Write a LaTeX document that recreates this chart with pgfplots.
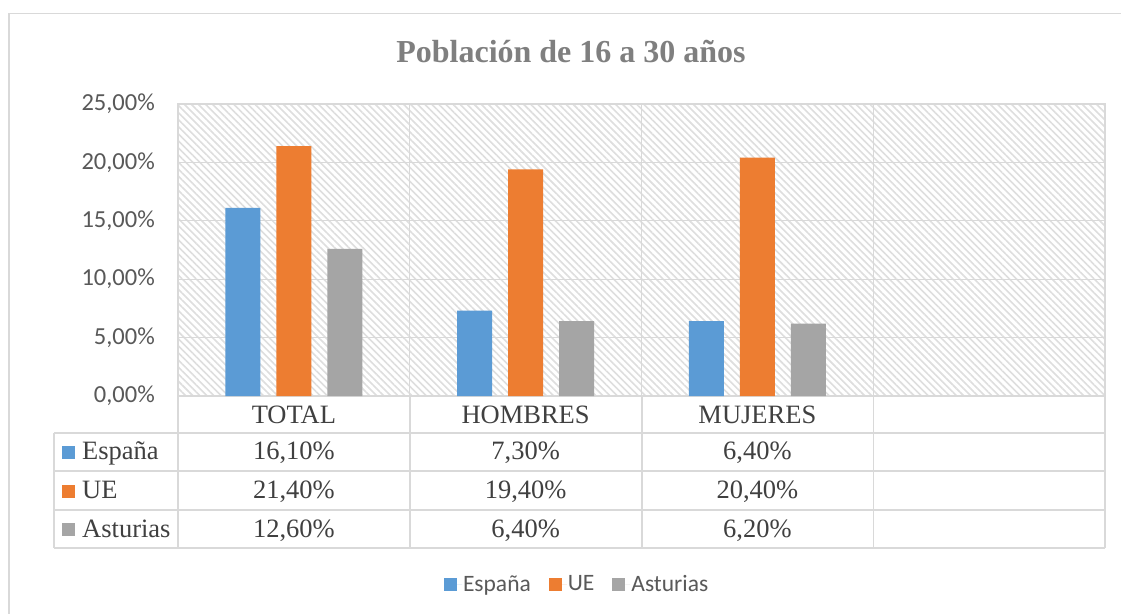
\documentclass[border=0pt]{standalone}
\usepackage{pgfplots}
\pgfplotsset{compat=1.18}
\usepackage{pgfplotstable}
\usepackage{fontspec}
\setmainfont{Liberation Serif}
\newfontfamily\calibri{Carlito}
\usetikzlibrary{patterns.meta}
\definecolor{cblue}{HTML}{5B9BD5}
\definecolor{corange}{HTML}{ED7D31}
\definecolor{cgray}{HTML}{A5A5A5}
\definecolor{lgrid}{HTML}{D9D9D9}
\definecolor{txt}{HTML}{404040}
\definecolor{tickc}{HTML}{595959}
\definecolor{ttl}{HTML}{7F7F7F}
\definecolor{hatch}{HTML}{DEDEDE}

\pgfplotstableread{
x espana ue asturias
0 16.1 21.4 12.6
1 7.3 19.4 6.4
2 6.4 20.4 6.2
}\datatable

\begin{document}
\begin{tikzpicture}[x=1pt,y=1pt]
\useasboundingbox (0,0) rectangle (1121,613);
\fill[white] (0,0) rectangle (1121,613);
\draw[lgrid, line width=1.3pt] (9,-5) -- (9,599.5) -- (1130,599.5);
\node[anchor=base, text=ttl, inner sep=0pt, font=\bfseries\fontsize{32}{38}\selectfont] at (571,550) {Población de 16 a 30 años};
\begin{axis}[
 at={(178pt,217pt)}, anchor=south west,
 scale only axis, width=927pt, height=292pt,
 xmin=-0.5, xmax=3.5, ymin=0, ymax=25,
 ybar=16pt, bar width=35pt,
 axis background/.style={fill=white, postaction={pattern={Lines[angle=-45,distance=5pt,line width=1.6pt]}, pattern color=hatch}},
 axis line style={lgrid, line width=1.3pt},
 ymajorgrids, grid style={lgrid, line width=1.3pt},
 ytick={0,5,10,15,20,25},
 major tick length=0pt,
 /pgf/number format/assume math mode=true,
 yticklabel={\pgfmathprintnumber[fixed,fixed zerofill,precision=2,use comma]{\tick}\%},
 yticklabel style={font=\calibri\fontsize{24.5}{28}\selectfont, text=tickc, inner sep=0pt, xshift=-23pt},
 xtick={0,1,2}, xticklabels={TOTAL,HOMBRES,MUJERES},
 xticklabel style={font=\fontsize{26.5}{30}\selectfont, text=txt, anchor=base, inner sep=0pt, yshift=-27pt},
 extra x ticks={0.5,1.5,2.5}, extra x tick labels={}, extra x tick style={grid=major},
 clip=false,
 legend style={at={(0.43,-0.644)}, anchor=center, draw=none, fill=none, legend columns=3,
   font=\calibri\fontsize{23.5}{27}\selectfont, text=tickc,
   nodes={inner xsep=1pt, inner ysep=2pt},
   /tikz/every even column/.append style={column sep=17pt}},
 legend image code/.code={\path[#1, draw=none] (0pt,-6.5pt) rectangle (13pt,6.5pt); \path (13pt,0pt) -- (18pt,0pt);},
]
\addplot[fill=cblue, draw=none] table[x=x, y=espana]{\datatable};
\addlegendentry{España}
\addplot[fill=corange, draw=none] table[x=x, y=ue]{\datatable};
\addlegendentry{UE}
\addplot[fill=cgray, draw=none] table[x=x, y=asturias]{\datatable};
\addlegendentry{Asturias}
\end{axis}
% data table grid
\begin{scope}[lgrid, line width=1.3pt]
\foreach \yy in {180,142,103,65} { \draw (54,\yy) -- (1105,\yy); }
\draw (54,180) -- (54,65);
\foreach \xx in {178,410,642,873.75,1105} { \draw (\xx,217) -- (\xx,65); }
\end{scope}
\foreach \col/\name/\Y/\c in {espana/España/153/cblue, ue/UE/114/corange, asturias/Asturias/76/cgray} {
  \fill[\c] (62,\Y+1) rectangle (75,\Y+14);
  \node[anchor=base west, inner sep=0pt, text=txt, font=\fontsize{26.5}{30}\selectfont] at (82,\Y) {\name};
  \foreach \r in {0,1,2} {
    \pgfplotstablegetelem{\r}{\col}\of\datatable
    \pgfmathsetmacro\xc{178+231.75*(\r+0.5)}
    \node[anchor=base, inner sep=0pt, text=txt, font=\fontsize{26.5}{30}\selectfont] at (\xc,\Y) {\pgfmathprintnumber[fixed,fixed zerofill,precision=2,use comma,assume math mode=true]{\pgfplotsretval}\%};
  }
}
\end{tikzpicture}
\end{document}
